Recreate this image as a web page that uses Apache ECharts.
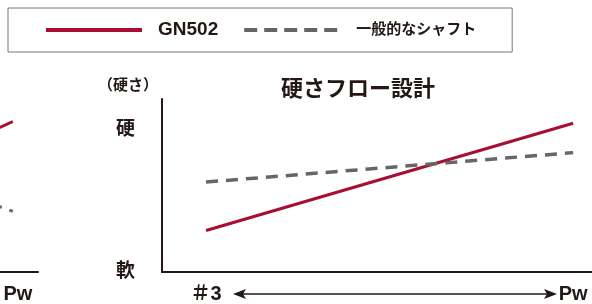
<!DOCTYPE html>
<html>
<head>
<meta charset="utf-8">
<script src="https://cdn.jsdelivr.net/npm/echarts@6/dist/echarts.min.js"></script>
<style>
  html, body { margin: 0; padding: 0; background: #fff; }
  #main { width: 592px; height: 304px; }
</style>
</head>
<body>
<div id="main"></div>
<script>
// クラブ位置 (#3 〜 Pw)
const clubs = ['＃3', 'Pw']
const clubPos = [3, 10]
// 硬さ (0 = 軟, 100 = 硬)
const gn502 = [24, 86]
const general = [52, 69]
// 左側に切れて見えている前のグラフ
const leftPos = [9, 10]
const leftGn502 = [73, 87]
const leftGeneral = [46, 35]
// 縦軸ラベル
const yLabels = ['軟', '硬']
const yLabelPos = [0, 82]

const RED = '#a80d32'
const GREY = '#666666'
const INK = '#231815'
const FONT = '"Liberation Sans", "Noto Sans CJK JP", sans-serif'

const pairs = (xs, ys) => xs.map((x, i) => [x, ys[i]])

const xLabel = {
  margin: 12,
  fontSize: 20,
  fontWeight: 'bold',
  color: INK
}

const myChart = echarts.init(document.getElementById('main'))
const option = {
  animation: false,
  textStyle: { fontFamily: FONT },
  title: {
    text: '硬さフロー設計',
    left: 353,
    top: 74,
    textAlign: 'center',
    textStyle: { fontSize: 22, fontWeight: 'bold', color: INK, fontFamily: FONT }
  },
  legend: {
    data: [
      { name: 'GN502', textStyle: { fontSize: 19 } },
      { name: '一般的なシャフト', textStyle: { fontSize: 15 }, lineStyle: { type: [13, 7] } }
    ],
    left: 8,
    top: 8,
    padding: [12, 36, 12, 36],
    borderColor: '#777',
    borderWidth: 1,
    itemWidth: 96,
    itemHeight: 4,
    itemGap: 24,
    itemStyle: { opacity: 0 },
    lineStyle: { width: 4 },
    textStyle: { fontWeight: 'bold', color: INK, fontFamily: FONT, padding: [0, 0, 0, 11], lineHeight: 20 }
  },
  grid: [
    { left: 162, right: 0, top: 99, bottom: 32, outerBoundsMode: 'none' },
    { left: -400, right: 554, top: 99, bottom: 32, outerBoundsMode: 'none' }
  ],
  xAxis: [
    {
      gridIndex: 0,
      type: 'value',
      min: 2.16,
      max: 10.36,
      splitLine: { show: false },
      axisTick: { show: false },
      axisLine: { lineStyle: { color: INK, width: 2 } },
      axisLabel: Object.assign({
        customValues: clubPos,
        formatter: v => clubs[clubPos.indexOf(v)]
      }, xLabel)
    },
    {
      gridIndex: 1,
      type: 'value',
      min: 2.12,
      max: 10.48,
      splitLine: { show: false },
      axisTick: { show: false },
      axisLine: { lineStyle: { color: INK, width: 2 } },
      axisLabel: Object.assign({
        customValues: [10],
        formatter: () => 'Pw',
        padding: [0, 0, 0, 10]
      }, xLabel)
    }
  ],
  yAxis: [
    {
      gridIndex: 0,
      type: 'value',
      min: 0,
      max: 100,
      name: '（硬さ）',
      nameLocation: 'end',
      nameGap: 6,
      nameTextStyle: { fontSize: 15, fontWeight: 'bold', color: INK, padding: [0, 68, 0, 0] },
      splitLine: { show: false },
      axisTick: { show: false },
      axisLine: { show: true, lineStyle: { color: INK, width: 2 } },
      axisLabel: {
        customValues: yLabelPos,
        formatter: v => yLabels[yLabelPos.indexOf(v)],
        margin: 27,
        fontSize: 19,
        fontWeight: 'bold',
        color: INK
      }
    },
    {
      gridIndex: 1,
      type: 'value',
      min: 0,
      max: 100,
      show: false
    }
  ],
  series: [
    {
      name: 'GN502',
      type: 'line',
      xAxisIndex: 0,
      yAxisIndex: 0,
      data: pairs(clubPos, gn502),
      symbol: 'none',
      lineStyle: { color: RED, width: 3 },
      itemStyle: { color: RED }
    },
    {
      name: '一般的なシャフト',
      type: 'line',
      xAxisIndex: 0,
      yAxisIndex: 0,
      data: pairs(clubPos, general),
      symbol: 'none',
      lineStyle: { color: GREY, width: 3.5, type: [12, 8] },
      itemStyle: { color: GREY }
    },
    {
      name: 'GN502',
      type: 'line',
      xAxisIndex: 1,
      yAxisIndex: 1,
      data: pairs(leftPos, leftGn502),
      symbol: 'none',
      lineStyle: { color: RED, width: 3 },
      itemStyle: { color: RED }
    },
    {
      name: '一般的なシャフト',
      type: 'line',
      xAxisIndex: 1,
      yAxisIndex: 1,
      data: pairs(leftPos, leftGeneral),
      symbol: 'none',
      lineStyle: { color: GREY, width: 3, type: [5, 8] },
      itemStyle: { color: GREY }
    }
  ],
  graphic: [
    // #3 ←→ Pw の矢印
    {
      type: 'line',
      shape: { x1: 240, y1: 294, x2: 550, y2: 294 },
      style: { stroke: INK, lineWidth: 1.5 }
    },
    {
      type: 'polygon',
      shape: { points: [[233, 294], [246, 289], [243, 294], [246, 299]] },
      style: { fill: INK }
    },
    {
      type: 'polygon',
      shape: { points: [[557, 294], [544, 289], [547, 294], [544, 299]] },
      style: { fill: INK }
    }
  ]
}
// 绘制图表
myChart.setOption(option)

window.addEventListener('resize', () => {
  myChart.resize()
})
</script>
</body>
</html>
